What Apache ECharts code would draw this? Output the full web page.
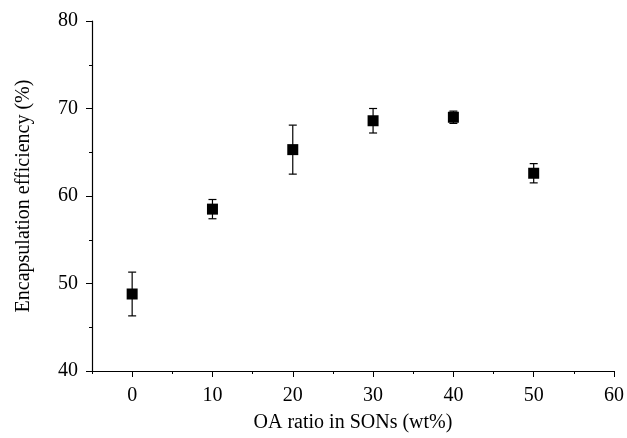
<!DOCTYPE html>
<html>
<head>
<meta charset="utf-8">
<script src="https://cdn.jsdelivr.net/npm/echarts@6/dist/echarts.min.js"></script>
<style>
html, body { margin: 0; padding: 0; background: #fff; }
#chart { width: 627px; height: 438px; }
</style>
</head>
<body>
<div id="chart"></div>
<script>
// OA ratio (wt%) vs encapsulation efficiency (%)
var oaRatio = [0, 10, 20, 30, 40, 50];
var efficiency = [48.8, 58.5, 65.3, 68.6, 69.0, 62.6];
var errSd = [2.5, 1.1, 2.8, 1.4, 0.7, 1.1];
var xMajorTicks = [0, 10, 20, 30, 40, 50, 60];
var xMinorTicks = [-5, 5, 15, 25, 35, 45, 55];

var font = 'Liberation Serif';

var points = oaRatio.map(function (x, i) { return [x, efficiency[i]]; });
var bars = oaRatio.map(function (x, i) { return [x, efficiency[i] - errSd[i], efficiency[i] + errSd[i]]; });

var chart = echarts.init(document.getElementById('chart'));
chart.setOption({
    animation: false,
    grid: { left: 92, right: 12, top: 21, bottom: 65 },
    xAxis: [{
        type: 'value',
        min: -5,
        max: 60,
        name: 'OA ratio in SONs (wt%)',
        nameLocation: 'middle',
        nameGap: 42,
        nameTextStyle: { fontFamily: font, fontSize: 20, color: '#000' },
        axisLine: { onZero: false, lineStyle: { color: '#000', width: 1.2 } },
        axisTick: { show: true, inside: false, length: 6, customValues: xMajorTicks, lineStyle: { color: '#000' } },
        axisLabel: { customValues: xMajorTicks, margin: 15, fontFamily: font, fontSize: 20, color: '#000' },
        splitLine: { show: false }
    }, {
        type: 'value',
        min: -5,
        max: 60,
        position: 'bottom',
        axisLine: { show: false, onZero: false },
        axisTick: { show: true, length: 3, customValues: xMinorTicks, lineStyle: { color: '#000' } },
        axisLabel: { show: false },
        splitLine: { show: false }
    }],
    yAxis: {
        type: 'value',
        min: 40,
        max: 80,
        interval: 10,
        name: 'Encapsulation efficiency (%)',
        nameLocation: 'middle',
        nameGap: 58,
        nameTextStyle: { fontFamily: font, fontSize: 20, color: '#000' },
        axisLine: { show: true, onZero: false, lineStyle: { color: '#000', width: 1.2 } },
        axisTick: { show: true, length: 6, lineStyle: { color: '#000' } },
        minorTick: { show: true, splitNumber: 2, length: 3, lineStyle: { color: '#000' } },
        axisLabel: { margin: 14, fontFamily: font, fontSize: 20, color: '#000' },
        splitLine: { show: false }
    },
    series: [{
        type: 'custom',
        xAxisIndex: 0,
        data: bars,
        renderItem: function (params, api) {
            var top = api.coord([api.value(0), api.value(2)]);
            var bot = api.coord([api.value(0), api.value(1)]);
            var half = 4;
            var style = { stroke: '#000', lineWidth: 1.2 };
            return {
                type: 'group',
                children: [
                    { type: 'line', shape: { x1: top[0], y1: top[1], x2: bot[0], y2: bot[1] }, style: style },
                    { type: 'line', shape: { x1: top[0] - half, y1: top[1], x2: top[0] + half, y2: top[1] }, style: style },
                    { type: 'line', shape: { x1: bot[0] - half, y1: bot[1], x2: bot[0] + half, y2: bot[1] }, style: style }
                ]
            };
        }
    }, {
        type: 'scatter',
        xAxisIndex: 0,
        data: points,
        symbol: 'rect',
        symbolSize: 11,
        itemStyle: { color: '#000', opacity: 1 },
        z: 5
    }]
});
</script>
</body>
</html>
